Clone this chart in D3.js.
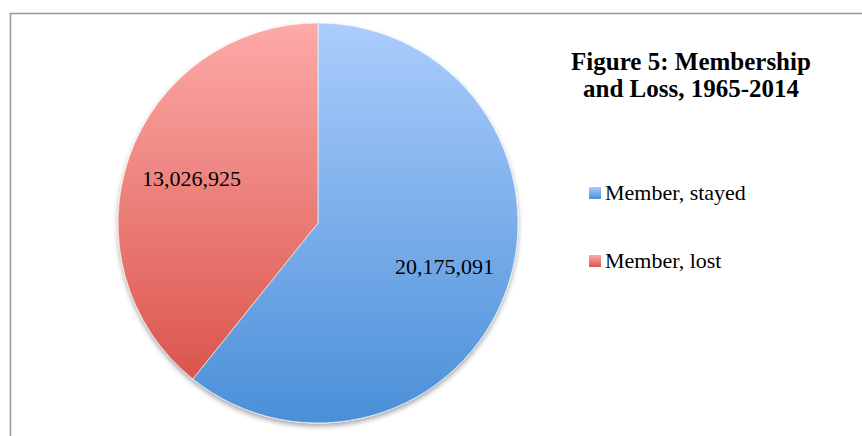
<!DOCTYPE html>
<html>
<meta charset="utf-8">
<style>
  body { margin: 0; background: #fff; }
  text { font-family: "Liberation Serif", "Times New Roman", serif; fill: #000; }
</style>
<body>
<div id="chart"></div>
<script src="https://cdn.jsdelivr.net/npm/d3@7"></script>
<script>
  "use strict";

  // chart data
  var categories = ["Member, stayed", "Member, lost"];
  var values = [20175091, 13026925];
  var titleLines = ["Figure 5: Membership", "and Loss, 1965-2014"];

  // colours for each slice: [top, bottom] of the gradient
  var topColors = ["#abcdfd", "#fdaaa8"];
  var bottomColors = ["#4a8fd8", "#db554d"];

  var width = 862, height = 436;
  var cx = 318, cy = 223, radius = 200;

  var svg = d3.select("#chart").append("svg")
      .attr("width", width)
      .attr("height", height);

  var defs = svg.append("defs");

  // soft shadow under the pie
  var shadow = defs.append("filter")
      .attr("id", "shadow")
      .attr("x", "-10%").attr("y", "-10%")
      .attr("width", "120%").attr("height", "125%");
  shadow.append("feDropShadow")
      .attr("dx", 0).attr("dy", 3)
      .attr("stdDeviation", 2.5)
      .attr("flood-color", "#000")
      .attr("flood-opacity", 0.35);

  // one vertical gradient per slice
  categories.forEach(function (c, i) {
    var g = defs.append("linearGradient")
        .attr("id", "grad" + i)
        .attr("x1", 0).attr("y1", 0)
        .attr("x2", 0).attr("y2", 1);
    g.append("stop").attr("offset", "0%").attr("stop-color", topColors[i]);
    g.append("stop").attr("offset", "100%").attr("stop-color", bottomColors[i]);
  });

  // frame (only the top and left edges are visible in the window)
  svg.append("rect")
      .attr("x", 10.5).attr("y", 13.5)
      .attr("width", 1000).attr("height", 1000)
      .attr("fill", "none")
      .attr("stroke", "#999")
      .attr("stroke-width", 1.5);

  var pie = d3.pie().sort(null).value(function (d) { return d; });
  var arcs = pie(values);

  var arc = d3.arc().innerRadius(0).outerRadius(radius);
  var labelArc = d3.arc().innerRadius(radius * 0.67).outerRadius(radius * 0.67);

  var pieG = svg.append("g")
      .attr("transform", "translate(" + cx + "," + cy + ")");

  pieG.append("g")
      .attr("filter", "url(#shadow)")
    .selectAll("path")
    .data(arcs)
    .enter()
    .append("path")
      .attr("d", arc)
      .attr("fill", function (d, i) { return "url(#grad" + i + ")"; })
      .attr("stroke", "#fff")
      .attr("stroke-width", 0.6);

  var fmt = d3.format(",");
  pieG.selectAll("text.label")
    .data(arcs)
    .enter()
    .append("text")
      .attr("class", "label")
      .attr("transform", function (d) {
        var c = labelArc.centroid(d);
        return "translate(" + c[0] + "," + (c[1] + 7) + ")";
      })
      .attr("text-anchor", "middle")
      .style("font-size", "22px")
      .text(function (d) { return fmt(d.data); });

  // title
  svg.selectAll("text.title")
    .data(titleLines)
    .enter()
    .append("text")
      .attr("class", "title")
      .attr("x", 691)
      .attr("y", function (d, i) { return 70 + i * 27; })
      .attr("text-anchor", "middle")
      .attr("font-weight", "bold")
      .style("font-size", "25px")
      .text(function (d) { return d; });

  // legend
  var legend = svg.selectAll("g.legend")
    .data(categories)
    .enter()
    .append("g")
      .attr("class", "legend")
      .attr("transform", function (d, i) { return "translate(589," + (187 + i * 68) + ")"; });

  legend.append("rect")
      .attr("width", 12).attr("height", 12)
      .attr("fill", function (d, i) { return "url(#grad" + i + ")"; });

  legend.append("text")
      .attr("x", 16)
      .attr("y", 13)
      .style("font-size", "22px")
      .text(function (d) { return d; });
</script>
</body>
</html>
